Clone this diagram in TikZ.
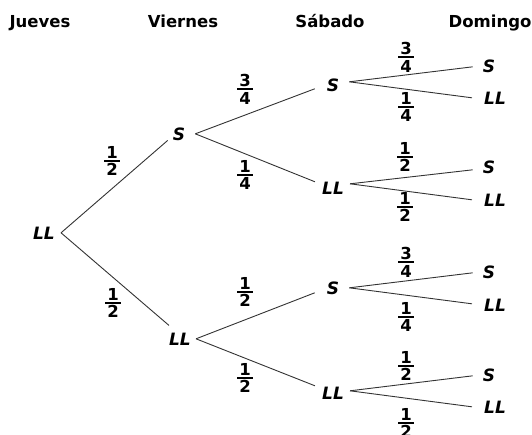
\documentclass[tikz,border=0pt]{standalone}
\usepackage{fontspec}
\setmainfont{DejaVu Sans}
\newcommand\fr[2]{\vbox{\offinterlineskip\halign{\hfil##\hfil\cr\kern2pt#1\kern2pt\cr\noalign{\kern2pt\hrule height1.6pt\kern2pt}#2\cr}}}
\begin{document}
\begin{tikzpicture}[x=1pt,y=-1pt,
  hdr/.style={font=\fontsize{16.5}{19}\selectfont\bfseries, inner sep=0pt, anchor=base},
  lbl/.style={font=\fontsize{17}{20}\selectfont\bfseries\itshape, inner sep=0pt, anchor=base},
  prob/.style={font=\fontsize{16.5}{20}\selectfont\bfseries, inner sep=0pt, anchor=center},
  br/.style={draw=black!80, line width=0.9pt}]
\useasboundingbox (0,0) rectangle (532,434);
% headers
\node[hdr] (hJ) at (40,27) {Jueves};
\node[hdr] (hV) at (183,27) {Viernes};
\node[hdr] (hS) at (330,27) {Sábado};
\node[hdr] (hD) at (490,27) {Domingo};
% tree nodes
\node[lbl] (root) at (44,239) {LL};
\node[lbl] (vS) at (179,140) {S};
\node[lbl] (vLL) at (180,345) {LL};
\node[lbl] (sS) at (333,91) {S};
\node[lbl] (sLL) at (333,194) {LL};
\node[lbl] (sS3) at (333,294) {S};
\node[lbl] (sLL4) at (333,399) {LL};
\node[lbl] (dS1) at (489,72) {S};
\node[lbl] (dL1) at (495,104) {LL};
\node[lbl] (dS2) at (489,173) {S};
\node[lbl] (dL2) at (495,206) {LL};
\node[lbl] (dS3) at (489,278) {S};
\node[lbl] (dL3) at (495,311) {LL};
\node[lbl] (dS4) at (489,381) {S};
\node[lbl] (dL4) at (495,413) {LL};
% branches
\draw[br] ([shift={(6,0)}]root.east) -- ([shift={(-5,0)}]vS.south west);
\draw[br] ([shift={(6,0)}]root.east) -- ([shift={(0,-7)}]vLL.north west);
\draw[br] ([shift={(10,0)}]vS.east) -- ([shift={(-12,4)}]sS.west);
\draw[br] ([shift={(10,0)}]vS.east) -- ([shift={(-7,-6)}]sLL.west);
\draw[br] ([shift={(5,0)}]vLL.east) -- ([shift={(-12,5)}]sS3.west);
\draw[br] ([shift={(5,0)}]vLL.east) -- ([shift={(-7,-7)}]sLL4.west);
\draw[br] ([shift={(10,-3)}]sS.east) -- ([shift={(-10,1)}]dS1.west);
\draw[br] ([shift={(10,-3)}]sS.east) -- ([shift={(-12,0)}]dL1.west);
\draw[br] ([shift={(6,-4)}]sLL.east) -- ([shift={(-10,3)}]dS2.west);
\draw[br] ([shift={(6,-4)}]sLL.east) -- ([shift={(-12,0)}]dL2.west);
\draw[br] ([shift={(10,0)}]sS3.east) -- ([shift={(-10,1)}]dS3.west);
\draw[br] ([shift={(10,0)}]sS3.east) -- ([shift={(-12,-1)}]dL3.west);
\draw[br] ([shift={(6,-2)}]sLL4.east) -- ([shift={(-10,1)}]dS4.west);
\draw[br] ([shift={(6,-2)}]sLL4.east) -- ([shift={(-12,0)}]dL4.west);
% probabilities
\node[prob] (p1) at (112,161) {\fr{1}{2}};
\node[prob] (p2) at (113,303) {\fr{1}{2}};
\node[prob] (p3) at (245,89) {\fr{3}{4}};
\node[prob] (p4) at (245,175) {\fr{1}{4}};
\node[prob] (p5) at (245,292) {\fr{1}{2}};
\node[prob] (p6) at (245,378) {\fr{1}{2}};
\node[prob] (p7) at (406,57) {\fr{3}{4}};
\node[prob] (p8) at (406,107) {\fr{1}{4}};
\node[prob] (p9) at (405,157) {\fr{1}{2}};
\node[prob] (p10) at (405,207) {\fr{1}{2}};
\node[prob] (p11) at (406,262) {\fr{3}{4}};
\node[prob] (p12) at (406,317) {\fr{1}{4}};
\node[prob] (p13) at (406,366) {\fr{1}{2}};
\node[prob] (p14) at (406,423) {\fr{1}{2}};
\end{tikzpicture}
\end{document}
